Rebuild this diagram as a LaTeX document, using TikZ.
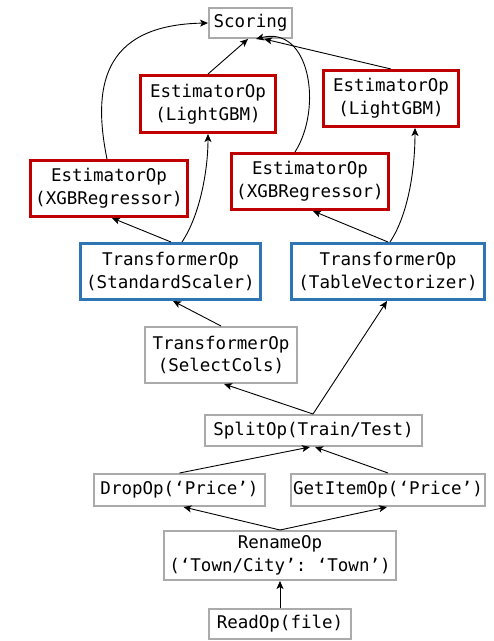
\documentclass[tikz,border=0pt]{standalone}
\usepackage{fontspec}
\setmonofont{DejaVu Sans Mono}
\usetikzlibrary{arrows.meta}
\definecolor{estred}{RGB}{192,0,0}
\definecolor{trblue}{RGB}{46,117,182}
\definecolor{opgray}{RGB}{170,170,170}
\tikzset{
  box/.style={inner sep=0pt, align=center, fill=white,
    font=\ttfamily\fontsize{17.5}{22.7}\selectfont},
  graybox/.style={box, draw=opgray, line width=2pt},
  redbox/.style={box, draw=estred, line width=3pt},
  bluebox/.style={box, draw=trblue, line width=3pt},
  flow/.style={draw=black, line width=0.9pt, -{Stealth[length=8pt,width=7pt,inset=2pt]}},
}
\begin{document}
\begin{tikzpicture}[x=1pt,y=-1pt]
\useasboundingbox (0,0) rectangle (494,641);

% operator boxes
\node[graybox, minimum width=83, minimum height=30] (score) at (250.5,23) {Scoring};
\node[redbox, minimum width=135, minimum height=57] (lgbL) at (208,104) {EstimatorOp\\(LightGBM)};
\node[redbox, minimum width=135, minimum height=56] (lgbR) at (391,98.5) {EstimatorOp\\(LightGBM)};
\node[redbox, minimum width=157, minimum height=56] (xgbL) at (109,188.5) {EstimatorOp\\(XGBRegressor)};
\node[redbox, minimum width=157, minimum height=56] (xgbR) at (310,181.5) {EstimatorOp\\(XGBRegressor)};
\node[bluebox, minimum width=180, minimum height=56] (scaler) at (170.5,271.5) {TransformerOp\\(StandardScaler)};
\node[bluebox, minimum width=193, minimum height=56] (tabvec) at (388,271.5) {TransformerOp\\(TableVectorizer)};
\node[graybox, minimum width=152, minimum height=56] (select) at (221,355) {TransformerOp\\(SelectCols)};
\node[graybox, minimum width=217, minimum height=31] (split) at (313.5,430.5) {SplitOp(Train/Test)};
\node[graybox, minimum width=171, minimum height=32] (drop) at (179.5,490) {DropOp(‘Price’)};
\node[graybox, minimum width=194, minimum height=32] (getitem) at (388,490) {GetItemOp(‘Price’)};
\node[graybox, minimum width=232, minimum height=49] (rename) at (280,555.5) {RenameOp\\(‘Town/City’: ‘Town’)};
\node[graybox, minimum width=142, minimum height=30] (read) at (280,624) {ReadOp(file)};

% data flow
\draw[flow] (read.north) -- (rename.south);
\draw[flow] (rename.north) -- ([xshift=4pt]drop.south);
\draw[flow] (rename.north) -- ([xshift=-1pt]getitem.south);
\draw[flow] (drop.north) -- ([xshift=-3.5pt]split.south);
\draw[flow] (getitem.north) -- ([xshift=1.5pt]split.south);
\draw[flow] ([xshift=-0.5pt]split.north) -- ([xshift=3pt]select.south);
\draw[flow] ([xshift=-0.5pt]split.north) -- ([xshift=-1pt]tabvec.south);
\draw[flow] (select.north) -- ([xshift=2.5pt]scaler.south);
\draw[flow] ([xshift=0.5pt]scaler.north) -- ([xshift=3pt]xgbL.south);
\draw[flow] ([xshift=11.5pt]scaler.north) .. controls +(18,-27) and +(0,36) .. (lgbL.south);
\draw[flow] (tabvec.north) -- ([xshift=3pt]xgbR.south);
\draw[flow] ([xshift=2pt]tabvec.north) .. controls +(18,-27) and +(0,42) .. ([xshift=24pt]lgbR.south);
\draw[flow] ([xshift=-2pt]xgbL.north) .. controls +(-14,-69) and +(-108,2) .. (score.west);
\draw[flow] (lgbL.north) -- ([xshift=-2.5pt]score.south);
\draw[flow] ([xshift=-15pt]xgbR.north) .. controls +(28,-44) and +(54,-14) .. ([xshift=5.5pt]score.south);
\draw[flow] (lgbR.north) -- ([xshift=13.5pt]score.south);
\end{tikzpicture}
\end{document}
